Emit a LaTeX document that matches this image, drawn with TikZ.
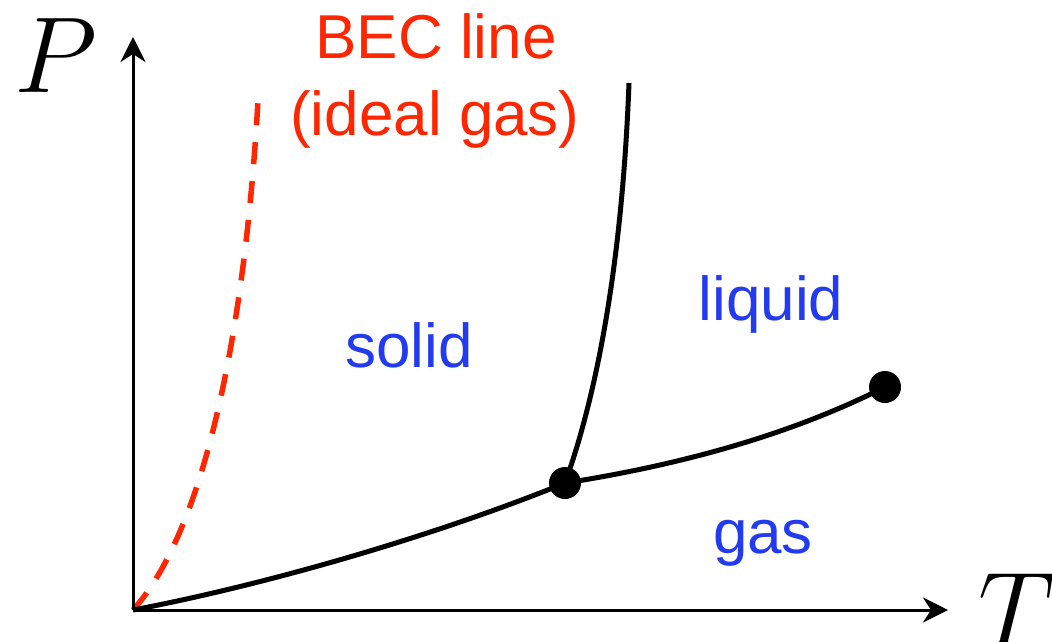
\RequirePackage{fix-cm}
\documentclass[tikz,border=0pt]{standalone}
\usepackage{fontspec}
\setmainfont{Liberation Sans}
\usetikzlibrary{arrows.meta}
\definecolor{becred}{RGB}{255,38,0}
\definecolor{phaseblue}{RGB}{34,58,240}
\begin{document}
\begin{tikzpicture}[x=1pt,y=-1pt,
  axis/.style={line width=3pt,-{Stealth[length=25pt,width=25pt,inset=8pt]}},
  curve/.style={line width=5pt},
  becline/.style={line width=5.5pt,becred,dash pattern=on 22pt off 17pt},
  dot/.style={circle,fill=black,inner sep=0pt,minimum size=32pt},
  phase/.style={text=phaseblue,font=\fontsize{62}{62}\selectfont,inner sep=0pt,anchor=base},
  redlabel/.style={text=becred,font=\fontsize{62}{62}\selectfont,inner sep=0pt,anchor=base},
  axlabel/.style={font=\fontsize{108}{108}\selectfont,inner sep=0pt,anchor=base west}]
\useasboundingbox (0,0) rectangle (1052,641);
\coordinate (o) at (133,610);
\coordinate (ytip) at (133,37);
\coordinate (xtip) at (948,610);
\coordinate (meltend) at (629,83);
\coordinate (becend) at (258,100);
\node[dot] (tp) at (565,483) {};
\node[dot] (cp) at (885,387) {};
% BEC dashed line
\draw[becline] (o) .. controls (205,530) and (245,330) .. (becend);
% axes
\draw[axis] (o) -- (ytip);
\draw[axis] (o) -- (xtip);
% phase boundaries
\draw[curve] (o) .. controls (280,582) and (450,530) .. (tp.center);
\draw[curve] (tp.center) .. controls (680,465) and (790,435) .. (cp.center);
\draw[curve] (tp.center) .. controls (602,380) and (623,240) .. (meltend);
% labels
\node[axlabel] (P) at (14,92) {$P$};
\node[axlabel] (T) at (978,647) {$T$};
\node[redlabel] (bec1) at (436,58) {BEC line};
\node[redlabel] (bec2) at (435,135) {(ideal gas)};
\node[phase] (solid) at (409,367) {solid};
\node[phase] (liquid) at (771,320) {liquid};
\node[phase] (gas) at (763,553) {gas};
\end{tikzpicture}
\end{document}
